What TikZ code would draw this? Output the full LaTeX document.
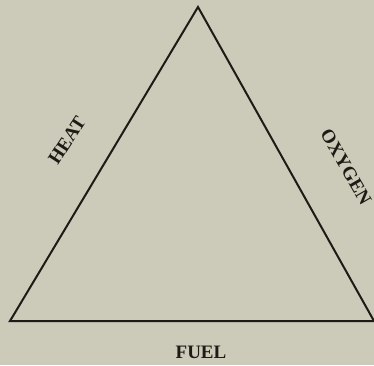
\documentclass[tikz,border=0pt]{standalone}
\usepackage{fontspec}
\setmainfont{Liberation Serif}
\definecolor{paper}{HTML}{CCCAB8}
\definecolor{ink}{HTML}{1E1A16}
\begin{document}
\begin{tikzpicture}[x=1pt,y=-1pt,
  side/.style={draw=ink,line width=2pt,line join=miter},
  lab/.style={text=ink,font=\bfseries\fontsize{19}{19}\selectfont,inner sep=0pt}]
\fill[paper] (0,0) rectangle (374,365);
\useasboundingbox (0,0) rectangle (374,365);
\coordinate (top) at (198,7);
\coordinate (bl) at (10,321);
\coordinate (br) at (374,321);
\draw[side] (bl) -- (top) -- (br) -- cycle;
\node[lab,rotate=57] (heat) at (67,140) {HEAT};
\node[lab,rotate=-60] (oxy) at (346,167) {OXYGEN};
\node[lab] (fuel) at (201,352) {FUEL};
\end{tikzpicture}
\end{document}
